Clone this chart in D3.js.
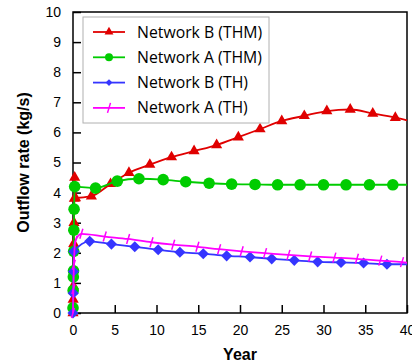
<!DOCTYPE html>
<html>
<head>
<meta charset="utf-8">
<script src="https://cdn.jsdelivr.net/npm/d3@7"></script>
<style>
  body { margin: 0; background: #fff; }
  .tick text { font-family: "Liberation Sans", Arial, sans-serif; font-size: 14px; fill: #000; }
  .axisTitle { font-family: "Liberation Sans", Arial, sans-serif; font-weight: bold; font-size: 16px; }
  .legendText { font-family: "Open Sans", sans-serif; font-size: 15.8px; }
</style>
</head>
<body>
<div id="chart"></div>
<script>
// chart size
var svgWidth = 412;
var svgHeight = 364;

var margin = { top: 12, right: 5, bottom: 51, left: 73 };
var width = svgWidth - margin.left - margin.right;
var height = svgHeight - margin.top - margin.bottom;

// data (year, kg/s)
var yearBTHM = [0, 0.02, 0.04, 0.06, 0.09, 0.12, 0.16, 0.2, 0.3, 2.2, 4.5, 6.7, 9.2, 11.8, 14.5, 17.2, 19.8, 22.4, 25, 27.7, 30.4, 33.2, 35.9, 38.6, 40];
var rateBTHM = [0, 0.45, 0.9, 1.45, 2.3, 3.0, 3.8, 4.5, 3.82, 3.88, 4.29, 4.66, 4.93, 5.18, 5.38, 5.58, 5.84, 6.11, 6.38, 6.55, 6.71, 6.76, 6.63, 6.49, 6.4];

var yearATHM = [0, 0.02, 0.04, 0.06, 0.08, 0.1, 0.13, 0.2, 2.7, 5.3, 7.9, 10.8, 13.5, 16.3, 19, 21.8, 24.5, 27.2, 30, 32.7, 35.5, 38.3, 40];
var rateATHM = [0.17, 0.75, 1.2, 1.4, 2.05, 2.75, 3.45, 4.2, 4.15, 4.38, 4.46, 4.43, 4.36, 4.31, 4.28, 4.27, 4.26, 4.26, 4.26, 4.26, 4.26, 4.26, 4.26];

var yearBTH = [0, 0.03, 0.06, 0.1, 2.0, 4.6, 7.4, 10.2, 12.8, 15.6, 18.4, 21.2, 23.8, 26.5, 29.3, 32.1, 34.8, 37.6, 40];
var rateBTH = [0, 0.66, 1.38, 2.04, 2.38, 2.29, 2.2, 2.1, 2.02, 1.97, 1.9, 1.86, 1.8, 1.75, 1.7, 1.68, 1.66, 1.62, 1.62];

var yearATH = [0, 0.05, 0.1, 0.3, 1.0, 3.8, 6.6, 9.4, 12, 14.9, 17.5, 20.2, 23, 25.8, 28.4, 31.3, 34, 36.8, 39.4, 40];
var rateATH = [0, 0.8, 1.6, 2.4, 2.63, 2.54, 2.46, 2.35, 2.27, 2.2, 2.12, 2.05, 1.99, 1.93, 1.88, 1.84, 1.8, 1.74, 1.69, 1.67];

var seriesNames = ["Network B (THM)", "Network A (THM)", "Network B (TH)", "Network A (TH)"];
var xTicks = [0, 5, 10, 15, 20, 25, 30, 35, 40];
var yTicks = [0, 1, 2, 3, 4, 5, 6, 7, 8, 9, 10];

function zip(xs, ys) {
  return xs.map(function(x, i) { return { year: x, rate: ys[i] }; });
}

var series = [
  { name: seriesNames[0], color: "#e00000", marker: "triangle", values: zip(yearBTHM, rateBTHM) },
  { name: seriesNames[1], color: "#00cc00", marker: "circle", values: zip(yearATHM, rateATHM) },
  { name: seriesNames[2], color: "#3535ff", marker: "diamond", values: zip(yearBTH, rateBTH) },
  { name: seriesNames[3], color: "#ff00ff", marker: "tick", values: zip(yearATH, rateATH) }
];

var svg = d3.select("#chart")
  .append("svg")
  .attr("width", svgWidth)
  .attr("height", svgHeight);

var chartGroup = svg.append("g")
  .attr("transform", `translate(${margin.left}, ${margin.top})`);

var xScale = d3.scaleLinear().domain([0, 40]).range([0, width]);
var yScale = d3.scaleLinear().domain([0, 10]).range([height, 0]);

// axes, ticks pointing inward
var bottomAxis = d3.axisBottom(xScale).tickValues(xTicks).tickSizeInner(-8).tickSizeOuter(0).tickPadding(12);
var leftAxis = d3.axisLeft(yScale).tickValues(yTicks).tickSizeInner(-8).tickSizeOuter(0).tickPadding(12);

var gx = chartGroup.append("g")
  .attr("transform", `translate(0, ${height})`)
  .call(bottomAxis);
var gy = chartGroup.append("g").call(leftAxis);

[gx, gy].forEach(function(g) {
  g.select(".domain").remove();
  g.selectAll(".tick line").attr("stroke", "#000").attr("stroke-width", 1.5);
});

// frame
chartGroup.append("rect")
  .attr("width", width)
  .attr("height", height)
  .attr("fill", "none")
  .attr("stroke", "#000")
  .attr("stroke-width", 1.5);

function drawMarker(sel, type, color) {
  if (type === "circle") {
    sel.append("circle").attr("r", 5.8).attr("fill", color);
  } else if (type === "triangle") {
    sel.append("path").attr("d", d3.symbol(d3.symbolTriangle, 54)()).attr("fill", color);
  } else if (type === "diamond") {
    sel.append("path").attr("d", d3.symbol(d3.symbolSquare, 62)()).attr("transform", "rotate(45)").attr("fill", color);
  } else {
    sel.append("line").attr("x1", -1.5).attr("y1", 5).attr("x2", 1.5).attr("y2", -5)
      .attr("stroke", color).attr("stroke-width", 1.5);
  }
}

var line = d3.line()
  .x(d => xScale(d.year))
  .y(d => yScale(d.rate))
  .curve(d3.curveMonotoneX);

series.forEach(function(s) {
  chartGroup.append("path")
    .datum(s.values)
    .attr("fill", "none")
    .attr("stroke", s.color)
    .attr("stroke-width", 1.8)
    .attr("d", line);

  // no marker on the last point at year 40
  chartGroup.selectAll(null)
    .data(s.values.slice(0, -1))
    .enter()
    .append("g")
    .attr("transform", d => `translate(${xScale(d.year)}, ${yScale(d.rate)})`)
    .each(function() { drawMarker(d3.select(this), s.marker, s.color); });
});

// legend
var legend = chartGroup.append("g").attr("transform", "translate(10, 5)");
legend.append("rect")
  .attr("width", 186)
  .attr("height", 106)
  .attr("fill", "#fff")
  .attr("stroke", "#b0b0b0")
  .attr("stroke-width", 1);

series.forEach(function(s, i) {
  var row = legend.append("g").attr("transform", `translate(0, ${15 + i * 25.3})`);
  row.append("line")
    .attr("x1", 10).attr("x2", 42)
    .attr("stroke", s.color).attr("stroke-width", 1.8);
  drawMarker(row.append("g").attr("transform", "translate(26, 0)"), s.marker, s.color);
  row.select("circle").attr("r", 4);
  row.select("path").attr("transform", s.marker === "diamond" ? "rotate(45) scale(0.6)" : "scale(0.8)");
  row.append("text")
    .attr("class", "legendText")
    .attr("x", 54)
    .attr("dy", "0.35em")
    .text(s.name);
});

// axis labels
chartGroup.append("text")
  .attr("class", "axisTitle")
  .attr("transform", "rotate(-90)")
  .attr("x", -height / 2)
  .attr("y", -44)
  .attr("text-anchor", "middle")
  .text("Outflow rate (kg/s)");

chartGroup.append("text")
  .attr("class", "axisTitle")
  .attr("x", width / 2)
  .attr("y", height + 47)
  .attr("text-anchor", "middle")
  .text("Year");
</script>
</body>
</html>
